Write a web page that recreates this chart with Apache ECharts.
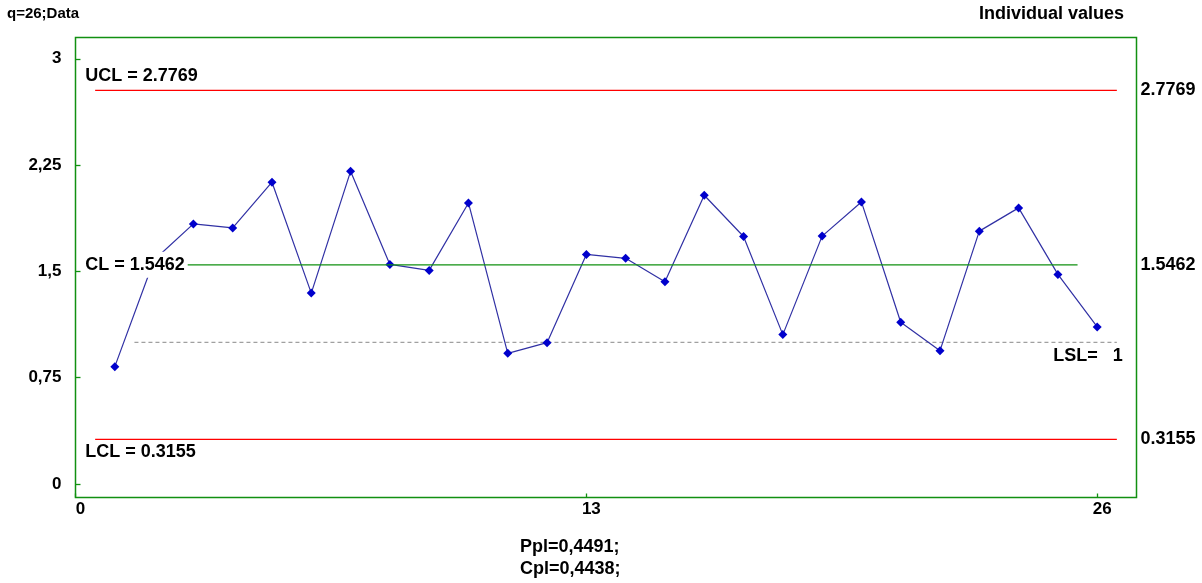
<!DOCTYPE html>
<html>
<head>
<meta charset="utf-8">
<title>Individual values</title>
<script src="https://cdn.jsdelivr.net/npm/echarts@6/dist/echarts.min.js"></script>
<style>
  html, body { margin: 0; padding: 0; background: #ffffff; }
  #chart { width: 1202px; height: 583px; }
</style>
</head>
<body>
<div id="chart"></div>
<script>
// Individual measurements, sample 1..26
const samples = [1, 2, 3, 4, 5, 6, 7, 8, 9, 10, 11, 12, 13, 14, 15, 16, 17, 18, 19, 20, 21, 22, 23, 24, 25, 26];
const values = [0.828, 1.58, 1.835, 1.807, 2.129, 1.347, 2.206, 1.549, 1.507, 1.983,
                0.922, 0.997, 1.620, 1.592, 1.427, 2.037, 1.746, 1.054, 1.749, 1.990,
                1.141, 0.941, 1.784, 1.948, 1.479, 1.108];

// Control limits and specification limit
const UCL = 2.7769;
const CL = 1.5462;
const LCL = 0.3155;
const LSL = 1;

// Axis ticks
const yTicks = [0, 0.75, 1.5, 2.25, 3];
const xTicks = [0, 13, 26];
const limitTicks = [LCL, CL, UCL];

const FONT = '"Liberation Sans", Arial, sans-serif';
const GREEN = '#119011';

const chart = echarts.init(document.getElementById('chart'), null, { renderer: 'canvas' });

const labelText = {
  fontFamily: FONT, fontWeight: 'bold', fontSize: 18, color: '#000'
};

function limitLine(name, y, x0, x1, color, type, z) {
  return {
    name: name,
    type: 'line',
    data: [[x0, y], [x1, y]],
    symbol: 'none',
    silent: true,
    z: z,
    lineStyle: { color: color, width: 1.3, type: type },
    animation: false
  };
}

const ucl = limitLine('UCL', UCL, 0.5, 26.5, '#ff0000', 'solid', 1);
ucl.markPoint = {
  symbol: 'circle', symbolSize: 0, silent: true, animation: false,
  data: [{
    coord: [0.25, UCL],
    label: Object.assign({ show: true, position: 'right', distance: 0, offset: [0, -14],
      formatter: 'UCL = ' + UCL.toFixed(4) }, labelText)
  }]
};

const lcl = limitLine('LCL', LCL, 0.5, 26.5, '#ff0000', 'solid', 1);
lcl.markPoint = {
  symbol: 'circle', symbolSize: 0, silent: true, animation: false,
  data: [{
    coord: [0.25, LCL],
    label: Object.assign({ show: true, position: 'right', distance: 0, offset: [0, 13],
      formatter: 'LCL = ' + LCL.toFixed(4) }, labelText)
  }]
};

const lsl = limitLine('LSL', LSL, 1.5, 26.5, '#a0a0a0', [4, 3], 1);
lsl.markPoint = {
  symbol: 'circle', symbolSize: 0, silent: true, animation: false,
  data: [{
    coord: [26.65, LSL],
    label: Object.assign({ show: true, position: 'left', distance: 0, offset: [0, 14],
      formatter: 'LSL=   ' + LSL }, labelText)
  }]
};

const cl = limitLine('CL', CL, 0.5, 25.5, GREEN, 'solid', 4);
cl.markPoint = {
  symbol: 'circle', symbolSize: 0, silent: true, animation: false,
  data: [{
    coord: [0.22, CL],
    label: Object.assign({ show: true, position: 'right', distance: 0, offset: [0, 0],
      backgroundColor: '#ffffff', padding: [4, 3, 4, 1],
      formatter: 'CL = ' + CL.toFixed(4) }, labelText)
  }]
};

const dataSeries = {
  name: 'Data',
  type: 'line',
  data: samples.map((s, i) => [s, values[i]]),
  z: 3,
  symbol: 'diamond',
  symbolSize: 9,
  showAllSymbol: true,
  itemStyle: { color: '#0000cc' },
  lineStyle: { color: '#3030a4', width: 1.2 },
  animation: false
};

const option = {
  backgroundColor: '#ffffff',
  animation: false,
  grid: {
    left: 75.5, top: 37.5, width: 1061, height: 460,
    show: true, borderColor: GREEN, borderWidth: 1.5, backgroundColor: 'transparent',
    containLabel: false
  },
  xAxis: {
    type: 'value', min: 0, max: 27,
    axisLine: { show: false, onZero: false },
    splitLine: { show: false },
    axisTick: { show: true, inside: true, length: 4, customValues: xTicks,
      lineStyle: { color: GREEN, width: 1.3 } },
    axisLabel: { show: true, customValues: xTicks, margin: 3, padding: [0, 0, 0, 10],
      fontFamily: FONT, fontWeight: 'bold', fontSize: 17, color: '#000' }
  },
  yAxis: [{
    type: 'value', min: -0.095, max: 3.15, position: 'left',
    axisLine: { show: false, onZero: false },
    splitLine: { show: false },
    axisTick: { show: true, inside: true, length: 5, customValues: yTicks,
      lineStyle: { color: GREEN, width: 1.3 } },
    axisLabel: { show: true, customValues: yTicks, margin: 14,
      formatter: v => String(v).replace('.', ','),
      fontFamily: FONT, fontWeight: 'bold', fontSize: 17, color: '#000' }
  }, {
    type: 'value', min: -0.095, max: 3.15, position: 'right',
    axisLine: { show: false, onZero: false },
    splitLine: { show: false },
    axisTick: { show: false },
    axisLabel: { show: true, customValues: limitTicks, margin: 4,
      formatter: v => v.toFixed(4),
      fontFamily: FONT, fontWeight: 'bold', fontSize: 18, color: '#000' }
  }],
  series: [ucl, lcl, lsl, dataSeries, cl],
  graphic: [
    { type: 'text', left: 7, top: 6,
      style: { text: 'q=26;Data', font: 'bold 15px ' + FONT, fill: '#000' } },
    { type: 'text', right: 78, top: 5,
      style: { text: 'Individual values', font: 'bold 18px ' + FONT, fill: '#000' } },
    { type: 'text', left: 520, top: 538,
      style: { text: 'Ppl=0,4491;', font: 'bold 18px ' + FONT, fill: '#000' } },
    { type: 'text', left: 520, top: 560,
      style: { text: 'Cpl=0,4438;', font: 'bold 18px ' + FONT, fill: '#000' } }
  ]
};

chart.setOption(option);
</script>
</body>
</html>
